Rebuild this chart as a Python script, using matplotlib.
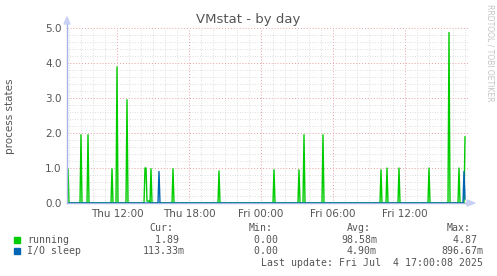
"""
Munin VMstat - by day, redrawn with matplotlib
"""
import numpy as np
import pandas as pd
import matplotlib
matplotlib.use('Agg')
import matplotlib.pyplot as plt
import matplotlib.dates as mdates
from matplotlib.patches import Rectangle, Polygon

# ---- data (5-minute samples, zero outside the listed spikes) ----
running_times = ['2025-07-03 07:55', '2025-07-03 09:00', '2025-07-03 09:35', '2025-07-03 11:35',
                 '2025-07-03 12:00', '2025-07-03 12:50', '2025-07-03 14:20', '2025-07-03 14:25',
                 '2025-07-03 14:30', '2025-07-03 14:35', '2025-07-03 14:40', '2025-07-03 14:50',
                 '2025-07-03 16:40', '2025-07-03 20:30', '2025-07-04 01:05', '2025-07-04 03:10',
                 '2025-07-04 03:35', '2025-07-04 05:10', '2025-07-04 10:00', '2025-07-04 10:30',
                 '2025-07-04 11:30', '2025-07-04 14:00', '2025-07-04 15:40', '2025-07-04 16:30',
                 '2025-07-04 17:00']
running_vals = [0.97, 1.95, 1.95, 0.98, 3.89, 2.95, 1.0, 1.0, 0.06, 0.05, 0.06, 0.98,
                0.98, 0.92, 0.95, 0.95, 1.95, 1.95, 0.95, 1.0, 1.0, 1.0, 4.87, 1.0, 1.89]

iosleep_times = ['2025-07-03 15:30', '2025-07-04 16:55', '2025-07-04 17:00']
iosleep_vals = [0.9, 0.9, 0.113]

legend_names = ['running', 'I/O sleep']
legend_cur = [1.89, 0.11333]
legend_min = [0.0, 0.0]
legend_avg = [0.09858, 0.0049]
legend_max = [4.87, 0.89667]

t_start = pd.Timestamp('2025-07-03 07:50')
t_end = pd.Timestamp('2025-07-04 17:25')
t_last = pd.Timestamp('2025-07-04 17:00')

green = '#00cc00'
blue = '#0066b3'
txt = '#555555'

grid_t = pd.date_range('2025-07-03 07:55', t_last, freq='5min')


def series(times, vals):
    s = pd.Series(0.0, index=grid_t)
    for t, v in zip(times, vals):
        s[pd.Timestamp(t)] = v
    return s


running = series(running_times, running_vals)
iosleep = series(iosleep_times, iosleep_vals)

fig = plt.figure(figsize=(4.97, 2.76), dpi=100)
W, H = 497, 276
ax = fig.add_axes([67 / W, 1 - 203 / H, (470 - 67) / W, 175 / H])

ax.plot(running.index, running.values, color=green, linewidth=1.0, zorder=3)
ax.plot(iosleep.index, iosleep.values, color=blue, linewidth=1.0, zorder=4)

ax.set_xlim(t_start, t_end)
ax.set_ylim(0, 5.0)

# grid
ax.xaxis.set_major_locator(mdates.HourLocator(byhour=[0, 6, 12, 18]))
ax.xaxis.set_minor_locator(mdates.HourLocator())
ax.xaxis.set_major_formatter(mdates.DateFormatter('%a %H:%M'))
ax.set_yticks(np.arange(0, 5.01, 1.0))
ax.set_yticks(np.arange(0, 5.01, 0.2), minor=True)
ax.yaxis.set_major_formatter(matplotlib.ticker.FormatStrFormatter('%.1f'))
ax.grid(which='minor', color='#d4d4d4', linestyle=(0, (1, 2)), linewidth=0.6)
ax.grid(which='major', color='#e8a0a0', linestyle=(0, (1, 2)), linewidth=0.7)
ax.set_axisbelow(True)
ax.tick_params(which='both', length=0, colors=txt, labelsize=7.5, pad=4)
for side in ['top', 'right']:
    ax.spines[side].set_visible(False)
for side in ['left', 'bottom']:
    ax.spines[side].set_color('#a8b4e8')
    ax.spines[side].set_linewidth(1.0)
ax.spines['left'].set_zorder(5)

# axis arrows (figure pixel coords)
fig.patches.append(Polygon([[467 / W, 1 - 200 / H], [467 / W, 1 - 206 / H], [475 / W, 1 - 203 / H]],
                           closed=True, transform=fig.transFigure, color='#c8d0f4', zorder=5))
fig.lines.append(plt.Line2D([67 / W, 67 / W], [1 - 28 / H, 1 - 20 / H], transform=fig.transFigure,
                            color='#a8b4e8', linewidth=1.0))
fig.patches.append(Polygon([[64 / W, 1 - 24 / H], [70 / W, 1 - 24 / H], [67 / W, 1 - 17 / H]],
                           closed=True, transform=fig.transFigure, color='#c8d0f4', zorder=5))

fig.text(248 / W, 1 - 20 / H, 'VMstat - by day', ha='center', va='center', fontsize=9.5, color=txt)
fig.text(10 / W, 1 - 116 / H, 'process states', rotation=90, ha='center', va='center',
         fontsize=7.5, color=txt)
fig.text(490 / W, 1 - 4 / H, 'RRDTOOL / TOBI OETIKER', rotation=270, ha='center', va='top',
         fontsize=5.5, color='#c4c4c4')


# ---- legend ----
def fmt(v):
    if v != 0 and abs(v) < 1:
        return '%.2fm' % (v * 1000)
    return '%.2f ' % v


mono = dict(family='DejaVu Sans Mono', fontsize=7.1, color=txt, va='center')
header_y = 228
for lab, x in zip(['Cur:', 'Min:', 'Avg:', 'Max:'], [149, 249, 347, 447]):
    fig.text(x / W, 1 - header_y / H, lab, ha='left', **mono)

col_right = [185, 284, 377, 483]
row_y = [240, 251]
colors = [green, blue]
for i, name in enumerate(legend_names):
    y = row_y[i]
    fig.patches.append(Rectangle((14 / W, 1 - (y + 3) / H), 6 / W, 6 / H,
                                 transform=fig.transFigure, color=colors[i]))
    fig.text(27 / W, 1 - y / H, name, ha='left', **mono)
    vals = [legend_cur[i], legend_min[i], legend_avg[i], legend_max[i]]
    for v, xr in zip(vals, col_right):
        fig.text(xr / W, 1 - y / H, fmt(v), ha='right', **mono)

fig.text(483 / W, 1 - 263 / H, 'Last update: Fri Jul  4 17:00:08 2025', ha='right', **mono)

plt.savefig('out.png', dpi=100)
